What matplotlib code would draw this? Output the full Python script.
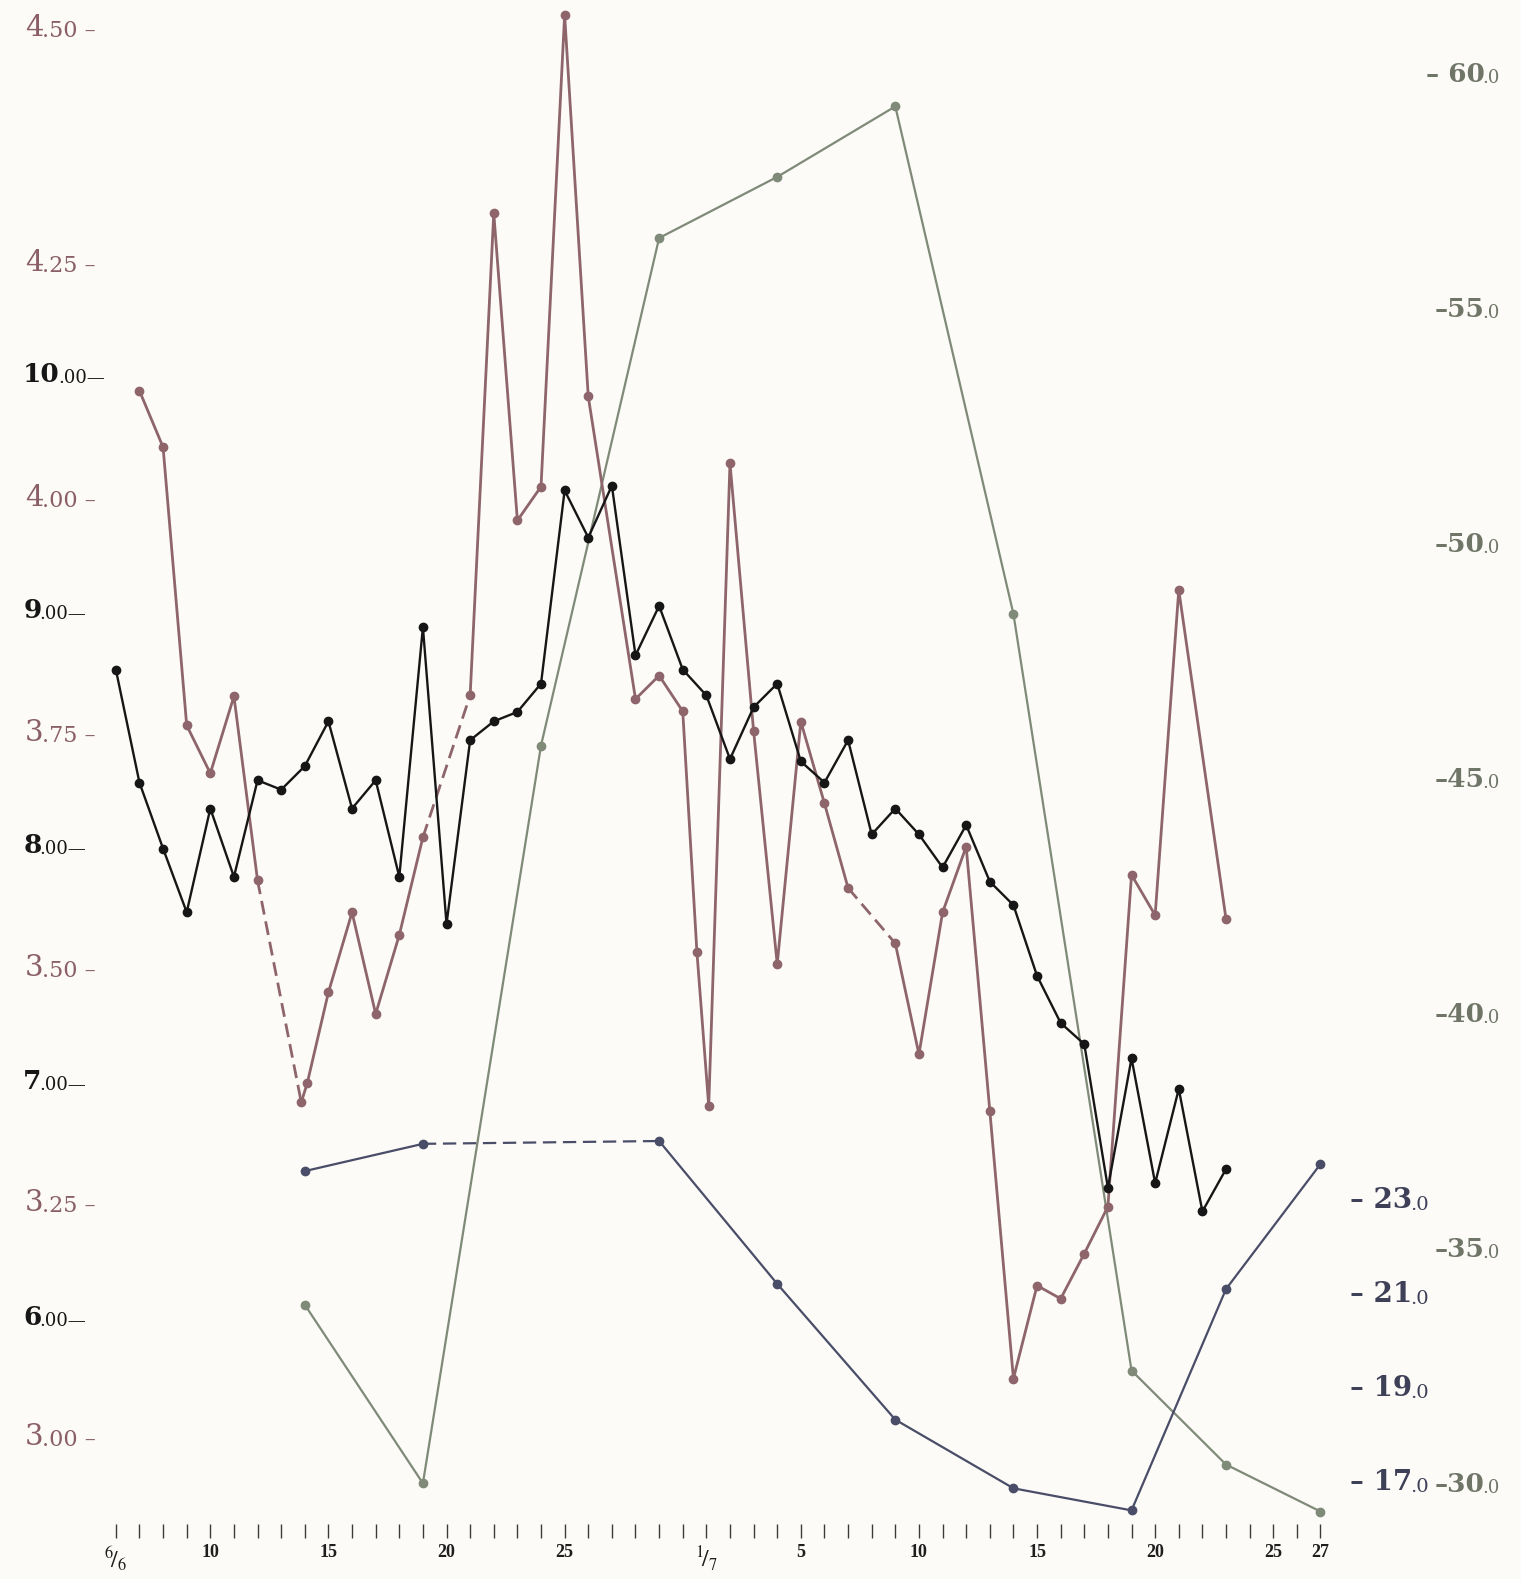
import numpy as np
import matplotlib.pyplot as plt

plt.rcParams['font.family'] = ['Liberation Serif', 'DejaVu Serif']
plt.rcParams['mathtext.fontset'] = 'stix'

# x = days counted from 6 June (0) to 27 July (51)
tick_days = list(range(52))
label_days = [0, 4, 9, 14, 19, 25, 29, 34, 39, 44, 49, 51]
label_text = [r'$^{6}\!/_{6}$', '10', '15', '20', '25', r'$^{1}\!/_{7}$',
              '5', '10', '15', '20', '25', '27']

# black series (left scale 6.00 - 10.00)
black_days = np.arange(48)
black_vals = [8.74, 8.26, 7.98, 7.71, 8.15, 7.86, 8.27, 8.23, 8.33, 8.52,
              8.15, 8.27, 7.86, 8.92, 7.66, 8.44, 8.52, 8.56, 8.68, 9.50,
              9.30, 9.52, 8.80, 9.01, 8.74, 8.63, 8.36, 8.58, 8.68, 8.35,
              8.26, 8.44, 8.04, 8.15, 8.04, 7.90, 8.08, 7.84, 7.74, 7.44,
              7.24, 7.15, 6.54, 7.09, 6.56, 6.96, 6.44, 6.62]

# mauve series (left scale 3.00 - 4.50)
pink_days = [1, 2, 3, 4, 5, 6, 7.85, 8.1, 9, 10, 11, 12, 13, 15, 16, 17, 18,
             19, 20, 22, 23, 24, 24.6, 25.1, 26, 27, 28, 29, 30, 31, 33, 34,
             35, 36, 37, 38, 39, 40, 41, 42, 43, 44, 45, 47]
pink_vals = [4.111, 4.051, 3.755, 3.704, 3.786, 3.590, 3.354, 3.374, 3.471,
             3.556, 3.448, 3.532, 3.636, 3.787, 4.300, 3.973, 4.009, 4.511,
             4.105, 3.783, 3.808, 3.770, 3.514, 3.350, 4.034, 3.749, 3.501,
             3.759, 3.672, 3.582, 3.523, 3.405, 3.556, 3.626, 3.345, 3.060,
             3.159, 3.145, 3.193, 3.243, 3.596, 3.553, 3.899, 3.549]
pink_dashed_from = [6, 13, 31]

# grey-green series (right scale 30.0 - 60.0)
green_days = [8, 13, 18, 23, 28, 33, 38, 43, 47, 51]
green_vals = [33.8, 30.0, 45.7, 56.5, 57.8, 59.3, 48.5, 32.4, 30.4, 29.4]

# slate series (right scale 17.0 - 23.0)
blue_days = [8, 13, 23, 28, 33, 38, 43, 47, 51]
blue_vals = [23.58, 24.16, 24.22, 21.18, 18.29, 16.83, 16.36, 21.07, 23.73]
blue_dashed_from = [13]

black_ticks = [10, 9, 8, 7, 6]
black_big = ['10', '9', '8', '7', '6']
black_small = ['.00—', '.00—', '.00—', '.00—', '.00—']
pink_ticks = [4.50, 4.25, 4.00, 3.75, 3.50, 3.25, 3.00]
pink_big = ['4', '4', '4', '3', '3', '3', '3']
pink_small = ['.50 –', '.25 –', '.00 –', '.75 –', '.50 –', '.25 –', '.00 –']
green_ticks = [60, 55, 50, 45, 40, 35, 30]
green_big = ['– 60', '–55', '–50', '–45', '–40', '–35', '–30']
blue_ticks = [23, 21, 19, 17]
blue_big = ['– 23', '– 21', '– 19', '– 17']

c_black = '#161616'
c_pink = '#8d656b'
c_green = '#7f8a78'
c_blue = '#4a4d68'

W, H = 1510.0, 1568.0
LABEL_FONT = 'DejaVu Serif'


def span(v1, p1, v2, p2):
    # axis range so that value v1 sits at pixel row p1 and v2 at p2
    k = (v1 - v2) / (p2 - p1)
    return v1 - (H - p1) * k, v1 + p1 * k


def draw(ax, x, y, dashed_from, color, lw, ms, dashes=(5, 2.5)):
    x = np.asarray(x, dtype=float)
    y = np.asarray(y, dtype=float)
    start = 0
    for i in range(len(x) - 1):
        if x[i] in dashed_from:
            ax.plot(x[start:i + 1], y[start:i + 1], '-', color=color, lw=lw)
            ax.plot(x[i:i + 2], y[i:i + 2], '--', color=color, lw=lw, dashes=dashes)
            start = i + 1
    ax.plot(x[start:], y[start:], '-', color=color, lw=lw)
    ax.plot(x, y, 'o', color=color, ms=ms, mec=color)


def left_label(ax, val, big, small, x, color, bs, ss, weight):
    tr = ax.get_yaxis_transform()
    t = ax.annotate(big, xy=(x, val), xycoords=tr, xytext=(0, -0.36 * bs),
                    textcoords='offset points', ha='left', va='baseline',
                    color=color, fontsize=bs, fontweight=weight, family=LABEL_FONT)
    ax.annotate(small, xy=(1, 0), xycoords=t, xytext=(-1.5, 0),
                textcoords='offset points', ha='left', va='bottom',
                color=color, fontsize=ss, family=LABEL_FONT)


def right_label(ax, val, big, small, x, color, bs, ss, weight):
    tr = ax.get_yaxis_transform()
    s = ax.annotate(small, xy=(x, val), xycoords=tr, xytext=(0, -0.36 * bs),
                    textcoords='offset points', ha='right', va='baseline',
                    color=color, fontsize=ss, family=LABEL_FONT)
    ax.annotate(big, xy=(0, 0), xycoords=s, xytext=(1.5, 0),
                textcoords='offset points', ha='right', va='bottom',
                color=color, fontsize=bs, fontweight=weight, family=LABEL_FONT)


fig = plt.figure(figsize=(15.21, 15.79), dpi=100, facecolor='#fcfbf7')
ax_g = fig.add_axes([0, 0, 1, 1])
ax_b = ax_g.twinx()
ax_p = ax_g.twinx()
ax_k = ax_g.twinx()

for a in (ax_g, ax_b, ax_p, ax_k):
    a.patch.set_visible(False)
    a.set_xlim(-115 / 23.45, (W - 115) / 23.45)
    for s in a.spines.values():
        s.set_visible(False)
    a.tick_params(axis='y', left=False, right=False, labelleft=False, labelright=False)

ax_k.set_ylim(*span(10, 370, 6, 1306))
ax_p.set_ylim(*span(4.5, 25, 3.0, 1425))
ax_g.set_ylim(*span(60, 73, 30, 1473))
ax_b.set_ylim(*span(23, 1190, 17, 1470))

# day axis
ax_g.spines['bottom'].set_visible(True)
ax_g.spines['bottom'].set_color('none')
ax_g.spines['bottom'].set_position(('axes', 1 - 1513 / H))
ax_g.set_xticks(tick_days)
ax_g.set_xticklabels([label_text[label_days.index(d)] if d in label_days else ''
                      for d in tick_days])
ax_g.tick_params(axis='x', direction='out', length=10, width=1, color='#3a3a3a',
                 pad=5, labelsize=13, labelcolor='#1e1e1e')
for t in ax_g.get_xticklabels():
    t.set_fontweight('bold')
    if t.get_text().startswith('$'):
        t.set_fontsize(17)

draw(ax_g, green_days, green_vals, [], c_green, 1.6, 6)
draw(ax_b, blue_days, blue_vals, blue_dashed_from, c_blue, 1.6, 6, dashes=(6, 3))
draw(ax_p, pink_days, pink_vals, pink_dashed_from, c_pink, 2.0, 6)
draw(ax_k, black_days, black_vals, [], c_black, 1.7, 6)

for v, b, s in zip(black_ticks, black_big, black_small):
    left_label(ax_k, v, b, s, 23 / W, c_black, 19, 13, 'bold')
for v, b, s in zip(pink_ticks, pink_big, pink_small):
    left_label(ax_p, v, b, s, 25 / W, '#8a5f66', 21, 16, 'normal')
for v, b in zip(green_ticks, green_big):
    right_label(ax_g, v, b, '.0', 1489 / W, '#6f7667', 19, 13, 'bold')
for v, b in zip(blue_ticks, blue_big):
    left_label(ax_b, v, b, '.0', 1340 / W, '#3e4058', 20, 14, 'bold')

fig.savefig('out.png', dpi=100, facecolor=fig.get_facecolor())
